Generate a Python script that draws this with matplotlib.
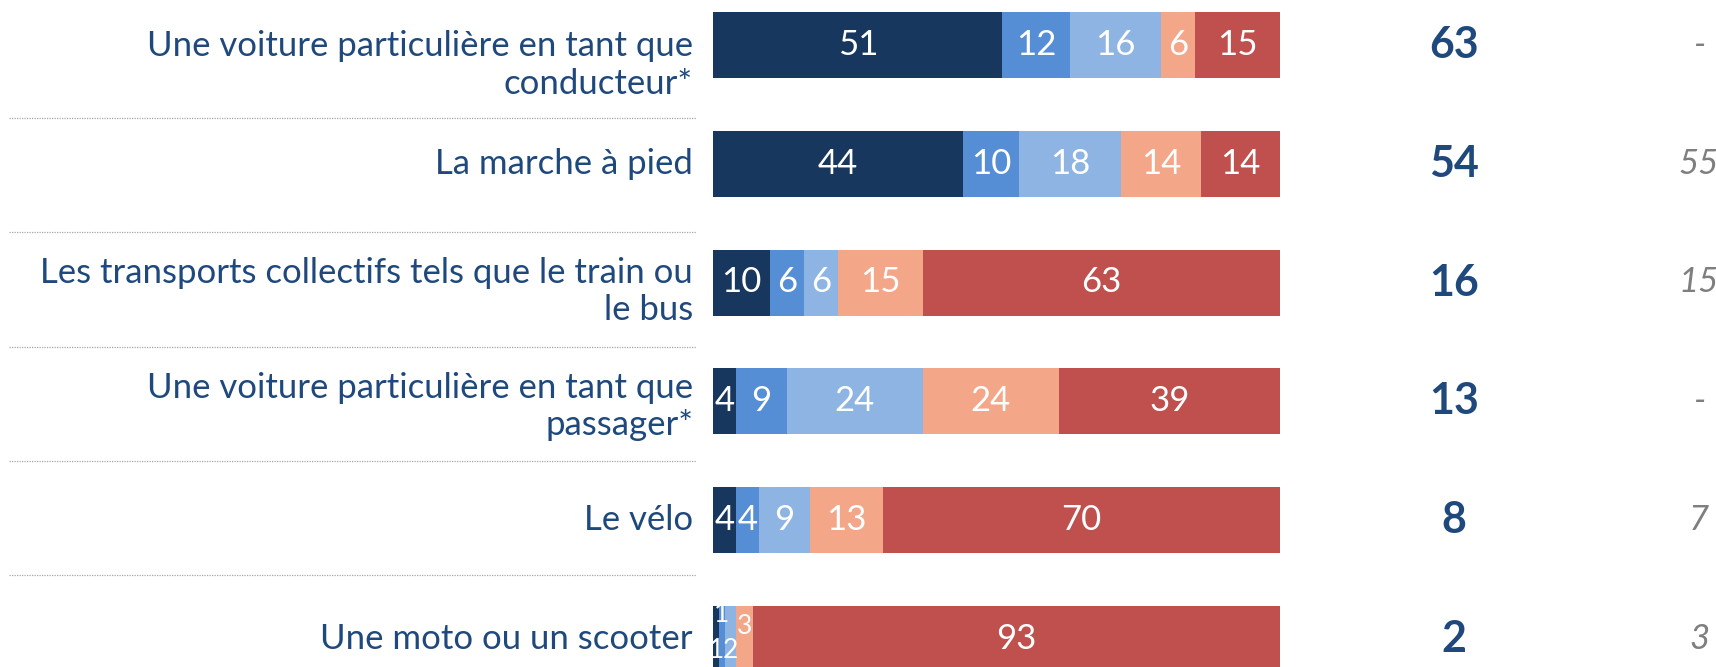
import matplotlib
matplotlib.use("Agg")
import matplotlib.pyplot as plt
import numpy as np

plt.rcParams['font.family'] = ['Lato', 'DejaVu Sans']

categories = [
    "Une voiture particulière en tant que\nconducteur*",
    "La marche à pied",
    "Les transports collectifs tels que le train ou\nle bus",
    "Une voiture particulière en tant que\npassager*",
    "Le vélo",
    "Une moto ou un scooter",
]
s1 = [51, 44, 10, 4, 4, 1]
s2 = [12, 10, 6, 9, 4, 1]
s3 = [16, 18, 6, 24, 9, 2]
s4 = [6, 14, 15, 24, 13, 3]
s5 = [15, 14, 63, 39, 70, 93]
totals = ["63", "54", "16", "13", "8", "2"]
previous = ["-", "55", "15", "-", "7", "3"]

series = [s1, s2, s3, s4, s5]
colors = ['#17375E', '#558ED5', '#8EB4E3', '#F3A688', '#C0504D']
text_blue = '#1F497D'

# layout (pixels of the 1716x667 picture)
W, H = 1716, 667
bar_left, bar_right = 713.3, 1280
row0, row_step = 45, 118.75
px = 100 / (bar_right - bar_left)

fig = plt.figure(figsize=(W / 100, H / 100), dpi=100)
ax = fig.add_axes([bar_left / W, 0, (bar_right - bar_left) / W, 1])
ax.set_xlim(0, 100)
ax.set_ylim((H - row0) / row_step, -row0 / row_step)
ax.axis('off')

# tiny segments in the last row: smaller, staggered labels
stagger = {(5, 0): 0.1, (5, 1): -0.2, (5, 2): 0.1, (5, 3): -0.1}

y = np.arange(len(categories))
left = np.zeros(len(categories))
for k, (vals, col) in enumerate(zip(series, colors)):
    vals = np.array(vals)
    ax.barh(y, vals, left=left, height=66 / row_step, color=col, edgecolor='none')
    for yi, v, l in zip(y, vals, left):
        fs = 19 if (yi, k) in stagger else 25
        ax.text(l + v / 2, yi + stagger.get((yi, k), 0), str(v), ha='center',
                va='center', color='white', fontsize=fs)
    left += vals

# category labels
label_dy = [20, 0, 9, 5, 0, 0]
for yi, cat, dy in zip(y, categories, label_dy):
    ax.text((693 - bar_left) * px, yi + dy / row_step, cat, ha='right', va='center',
            color=text_blue, fontsize=25, linespacing=1.2, clip_on=False)

for yi, t in zip(y, totals):
    ax.text((1454 - bar_left) * px, yi, t, ha='center', va='center',
            color=text_blue, fontsize=31, fontweight='bold', clip_on=False)

for yi, p in zip(y, previous):
    ax.text((1699 - bar_left) * px, yi, p, ha='center', va='center',
            color='#7F7F7F', fontsize=25, style='italic', clip_on=False)

# dotted separators between rows
sep_px = [118, 232, 347, 461, 575]
for s in sep_px:
    ys = (s - row0) / row_step
    ax.plot([(9 - bar_left) * px, (696 - bar_left) * px], [ys, ys],
            color='#A6A6A6', lw=0.9, ls=(0, (1, 1)), clip_on=False)

fig.savefig('out.png', dpi=100)
